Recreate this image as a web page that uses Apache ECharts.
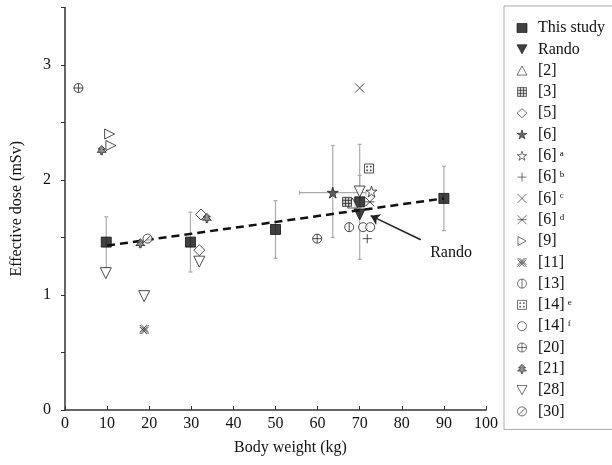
<!DOCTYPE html>
<html>
<head>
<meta charset="utf-8">
<script src="https://cdn.jsdelivr.net/npm/echarts@6/dist/echarts.min.js"></script>
<style>
  html, body { margin: 0; padding: 0; background: #fff; }
  #chart { width: 612px; height: 465px; }
</style>
</head>
<body>
<div id="chart"></div>
<script>
// values: [body weight (kg), effective dose (mSv)]
const studyData = [[9.8, 1.46], [29.8, 1.46], [50, 1.57], [70, 1.81], [90, 1.84]]
const studyErr = [0.22, 0.26, 0.25, 0.5, 0.28]
const fitLine = [[10, 1.43], [90, 1.84]]
const randoData = [[70, 1.7]]
const ref2 = [[68.3, 1.8]]
const ref3 = [[67, 1.81]]
const ref5 = [[32.3, 1.7], [31.9, 1.39]]
const ref6 = [[63.6, 1.89]]
const ref6a = [[72.8, 1.9]]
const ref6b = [[71.8, 1.49]]
const ref6c = [[70, 2.8]]
const ref6d = [[72.4, 1.81]]
const ref9 = [[10.6, 2.4], [10.9, 2.3]]
const ref11 = [[18.8, 0.7]]
const ref13 = [[67.5, 1.59]]
const ref14e = [[72.2, 2.1]]
const ref14f = [[70.8, 1.59], [72.5, 1.59]]
const ref20 = [[3.2, 2.8], [59.9, 1.49]]
const ref21 = [[8.7, 2.26], [17.9, 1.45], [33.7, 1.67]]
const ref28 = [[9.7, 1.19], [18.8, 0.99], [31.9, 1.29], [70, 1.9]]
const ref30 = [[19.6, 1.49]]
// other error bars: [x, y, yLow, yHigh, xLow, xHigh]
const otherErr = [
  [63.6, 1.89, 1.5, 2.3, 55.7, 71.5],
  [70, 1.9, 1.76, 2.04, 70, 70]
]
const xTicks = [0, 100, 10]
const yTicks = [0, 3.5, 0.5]

const serif = 'Liberation Serif, DejaVu Serif, serif'
const circ = 'M5,0A5,5,0,1,1,5,10A5,5,0,1,1,5,0Z'
const sym = {
  triUp: 'path://M5,0L10,9L0,9Z',
  triDown: 'path://M0,0L10,0L5,9Z',
  triRight: 'path://M0,0L9,5L0,10Z',
  star: 'path://M5,0L6.2,3.6L10,3.6L6.9,5.8L8.1,9.5L5,7.2L1.9,9.5L3.1,5.8L0,3.6L3.8,3.6Z',
  plus: 'path://M5,0V10M0,5H10',
  cross: 'path://M0,0L10,10M10,0L0,10',
  aster: 'path://M0,0L10,10M10,0L0,10M0,5H10',
  grid: 'path://M0,0H10V10H0Z M0,3.3H10M0,6.7H10M3.3,0V10M6.7,0V10',
  hatch: 'path://M2,0L10,8M0,2L8,10M8,0L0,8M10,2L2,10M0,0L10,10M10,0L0,10',
  phi: 'path://' + circ + ' M5,0V10',
  oplus: 'path://' + circ + ' M5,0V10M0,5H10',
  oslash: 'path://' + circ + ' M1.5,8.5L8.5,1.5',
  dots: 'path://M0,0H10V10H0Z M2.5,2.5H3.5V3.5H2.5Z M6.5,2.5H7.5V3.5H6.5Z M2.5,6.5H3.5V7.5H2.5Z M6.5,6.5H7.5V7.5H6.5Z',
  tree: 'path://M5,0L9,4H6.5L10,7.5H6V10H4V7.5H0L3.5,4H1Z'
}

function sc(name, data, symbol, size, fill, stroke) {
  return {
    name: name,
    type: 'scatter',
    data: data,
    symbol: symbol,
    symbolSize: size,
    z: 3,
    itemStyle: {
      color: fill,
      borderColor: stroke || '#222',
      borderWidth: 1
    }
  }
}

// error bar drawing, shared by all the bars
function errItem(params, api) {
  const c = api.coord([api.value(0), api.value(1)])
  const lo = api.coord([api.value(0), api.value(2)])
  const hi = api.coord([api.value(0), api.value(3)])
  const style = { stroke: '#aaa', lineWidth: 1.2 }
  const kids = [
    { type: 'line', shape: { x1: c[0], y1: lo[1], x2: c[0], y2: hi[1] }, style: style },
    { type: 'line', shape: { x1: c[0] - 2, y1: lo[1], x2: c[0] + 2, y2: lo[1] }, style: style },
    { type: 'line', shape: { x1: c[0] - 2, y1: hi[1], x2: c[0] + 2, y2: hi[1] }, style: style }
  ]
  const xl = api.coord([api.value(4), api.value(1)])
  const xh = api.coord([api.value(5), api.value(1)])
  if (xh[0] - xl[0] > 1) {
    kids.push(
      { type: 'line', shape: { x1: xl[0], y1: c[1], x2: xh[0], y2: c[1] }, style: style },
      { type: 'line', shape: { x1: xl[0], y1: c[1] - 2, x2: xl[0], y2: c[1] + 2 }, style: style },
      { type: 'line', shape: { x1: xh[0], y1: c[1] - 2, x2: xh[0], y2: c[1] + 2 }, style: style }
    )
  }
  return { type: 'group', children: kids }
}

const errData = studyData
  .map((p, i) => [p[0], p[1], p[1] - studyErr[i], p[1] + studyErr[i], p[0], p[0]])
  .concat(otherErr)

const names = ['This study', 'Rando', '[2]', '[3]', '[5]', '[6]', '[6] a', '[6] b', '[6] c',
  '[6] d', '[9]', '[11]', '[13]', '[14] e', '[14] f', '[20]', '[21]', '[28]', '[30]']

const randoSeries = sc('Rando', randoData, sym.triDown, 11, '#111', '#111')
randoSeries.z = 4
randoSeries.markLine = {
  silent: true,
  symbol: ['none', 'arrow'],
  symbolSize: 9,
  lineStyle: { color: '#222', width: 1.6, type: 'solid' },
  label: { show: false },
  data: [[{ coord: [84.5, 1.48] }, { coord: [72.6, 1.69] }]]
}
randoSeries.markPoint = {
  silent: true,
  symbolSize: 0,
  label: { show: true, formatter: 'Rando', color: '#111', fontFamily: serif, fontSize: 16 },
  data: [{ coord: [91.7, 1.37] }]
}

const chart = echarts.init(document.getElementById('chart'))
chart.setOption({
  animation: false,
  backgroundColor: '#fff',
  grid: { left: 65, right: 126, top: 7.5, bottom: 55 },
  legend: {
    data: names,
    orient: 'vertical',
    left: 504,
    top: 6,
    padding: [14, 60, 10, 11],
    itemWidth: 10,
    itemHeight: 9,
    itemGap: 5.3,
    borderColor: '#aaa',
    borderWidth: 1,
    selectedMode: false,
    itemStyle: { borderWidth: 0.8 },
    textStyle: {
      fontFamily: serif,
      fontSize: 16,
      color: '#111',
      lineHeight: 14,
      padding: [0, 0, 0, 6],
      rich: {
        sup: { fontFamily: serif, fontSize: 9, lineHeight: 14, verticalAlign: 'top', padding: [0, 0, 0, 3], color: '#111' }
      }
    },
    formatter: function (name) {
      const m = name.match(/^(\[\d+\]) (\w)$/)
      return m ? m[1] + '{sup|' + m[2] + '}' : name
    }
  },
  xAxis: {
    type: 'value',
    min: xTicks[0],
    max: xTicks[1],
    interval: xTicks[2],
    name: 'Body weight (kg)',
    nameLocation: 'middle',
    nameGap: 30,
    nameTextStyle: { fontFamily: serif, fontSize: 16, color: '#111', padding: [0, 0, 0, 30] },
    splitLine: { show: false },
    axisLine: { lineStyle: { color: '#333', width: 1.5 } },
    axisTick: { inside: true, length: 4, lineStyle: { color: '#333' } },
    axisLabel: { fontFamily: serif, fontSize: 16, color: '#111', margin: 6 }
  },
  yAxis: {
    type: 'value',
    min: yTicks[0],
    max: yTicks[1],
    interval: yTicks[2],
    name: 'Effective dose (mSv)',
    nameLocation: 'middle',
    nameGap: 40,
    nameTextStyle: { fontFamily: serif, fontSize: 16, color: '#111' },
    splitLine: { show: false },
    axisLine: { lineStyle: { color: '#333', width: 1.5 } },
    axisTick: { length: 4, lineStyle: { color: '#333' } },
    axisLabel: {
      fontFamily: serif,
      fontSize: 16,
      color: '#111',
      margin: 14,
      formatter: (v) => (v % 1 === 0 ? String(v) : '')
    }
  },
  series: [
    {
      name: 'errors',
      type: 'custom',
      renderItem: errItem,
      data: errData,
      encode: { x: 0, y: [2, 3] },
      z: 1,
      silent: true
    },
    {
      name: 'fit',
      type: 'line',
      data: fitLine,
      showSymbol: false,
      z: 2,
      lineStyle: { color: '#111', width: 2.5, type: [8, 5] }
    },
    sc('This study', studyData, 'rect', 10, '#111', '#111'),
    randoSeries,
    sc('[2]', ref2, sym.triUp, 10, '#fff'),
    sc('[3]', ref3, sym.grid, 9, '#ccc'),
    sc('[5]', ref5, 'diamond', 11, '#fff'),
    sc('[6]', ref6, sym.star, 11, '#444'),
    sc('[6] a', ref6a, sym.star, 11, '#fff'),
    sc('[6] b', ref6b, sym.plus, 9, 'none'),
    sc('[6] c', ref6c, sym.cross, 9, 'none'),
    sc('[6] d', ref6d, sym.aster, 9, 'none'),
    sc('[9]', ref9, sym.triRight, 10, '#fff'),
    sc('[11]', ref11, sym.hatch, 9, 'none'),
    sc('[13]', ref13, sym.phi, 9, '#fff'),
    sc('[14] e', ref14e, sym.dots, 9, '#fff'),
    sc('[14] f', ref14f, 'circle', 9, '#fff'),
    sc('[20]', ref20, sym.oplus, 9, '#fff'),
    sc('[21]', ref21, sym.tree, 9, '#777'),
    sc('[28]', ref28, sym.triDown, 11, '#fff'),
    sc('[30]', ref30, sym.oslash, 9, '#fff')
  ]
})
</script>
</body>
</html>
